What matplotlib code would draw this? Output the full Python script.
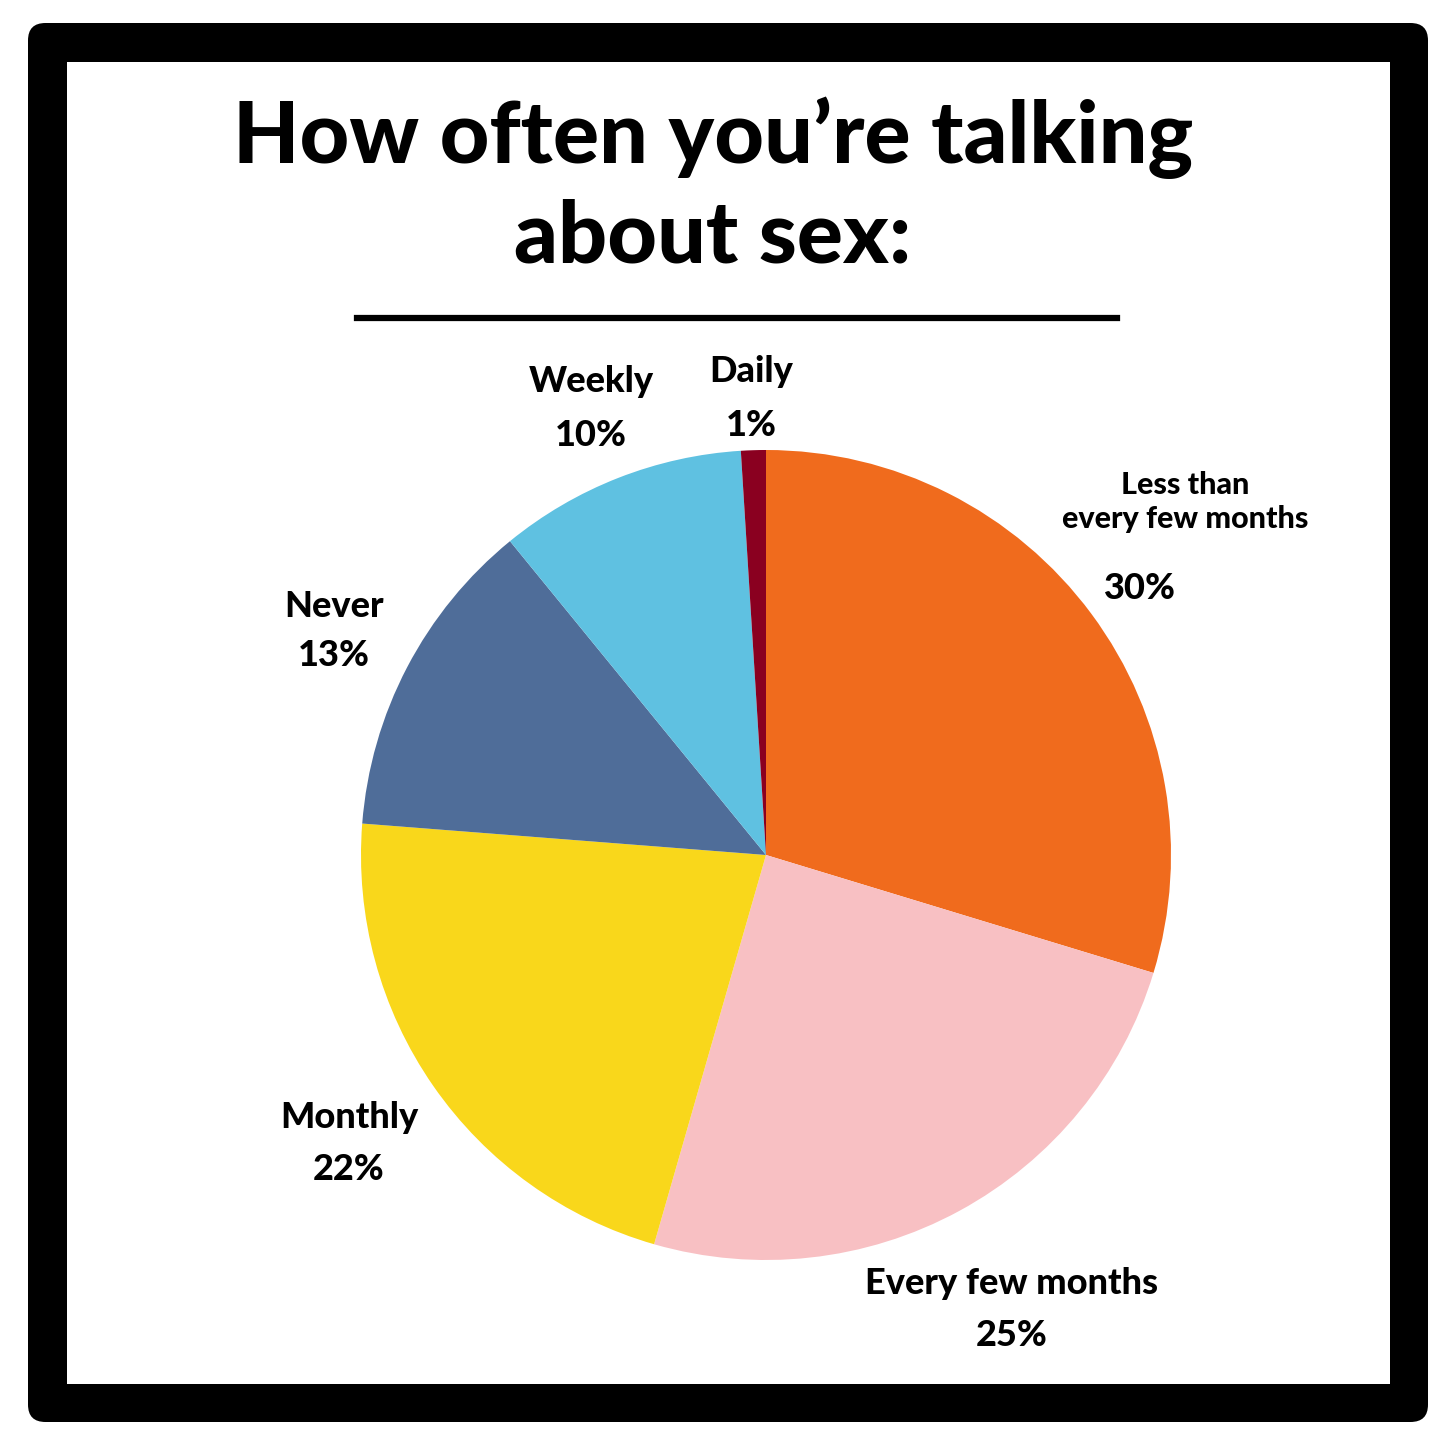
import matplotlib.pyplot as plt
from matplotlib.patches import FancyBboxPatch, Rectangle
from matplotlib.lines import Line2D

categories = ['Less than\nevery few months', 'Every few months', 'Monthly', 'Never', 'Weekly', 'Daily']
shares = [30, 25, 22, 13, 10, 1]
colors = ['#F06B1D', '#F8C0C3', '#F9D71B', '#4F6D99', '#5FC1E1', '#8A0020']

W, H = 1456, 1447
fig = plt.figure(figsize=(W / 100, H / 100), dpi=100)
fig.patch.set_facecolor('white')

def fx(x):
    return x / W

def fy(y):
    return 1 - y / H

# black frame with rounded outer corners
outer = FancyBboxPatch((fx(28), fy(1422)), fx(1400), 1399 / H,
                       boxstyle='round,pad=0,rounding_size=0.012',
                       transform=fig.transFigure, facecolor='black', edgecolor='none', zorder=0)
fig.patches.append(outer)
inner = Rectangle((fx(67), fy(1384)), fx(1323), 1322 / H,
                  transform=fig.transFigure, facecolor='white', edgecolor='none', zorder=0)
fig.patches.append(inner)

font = 'Lato'

fig.text(fx(713), fy(138), 'How often you\u2019re talking', ha='center', va='center',
         fontsize=62, fontweight='black', family=font)
fig.text(fx(713), fy(238), 'about sex:', ha='center', va='center',
         fontsize=62, fontweight='black', family=font)
fig.lines.append(Line2D([fx(357), fx(1117)], [fy(318), fy(318)], transform=fig.transFigure,
                        color='black', linewidth=4.5))

# pie
cx, cy, r = 766, 855, 405
ax = fig.add_axes([fx(cx - r), fy(cy + r), 2 * r / W, 2 * r / H])
ax.set_zorder(5)
ax.patch.set_visible(False)
ax.pie(shares, colors=colors, startangle=90, counterclock=False, radius=1,
       wedgeprops=dict(linewidth=0))
ax.set_xlim(-1, 1)
ax.set_ylim(-1, 1)
ax.set_aspect('equal')
ax.axis('off')

# label placement (pixel coords of name line and percent line)
label_pos = [((1185, 502), (1140, 588)),
             ((1012, 1283), (1012, 1336)),
             ((349, 1118), (349, 1170)),
             ((334, 607), (334, 655)),
             ((591, 382), (591, 435)),
             ((751, 372), (751, 425))]

for name, val, (npos, ppos) in zip(categories, shares, label_pos):
    size = 22 if '\n' in name else 26
    fig.text(fx(npos[0]), fy(npos[1]), name, ha='center', va='center', fontsize=size,
             fontweight='black', family=font, linespacing=1.25)
    fig.text(fx(ppos[0]), fy(ppos[1]), f'{val}%', ha='center', va='center', fontsize=26,
             fontweight='black', family=font)

fig.savefig('out.png', dpi=100)
